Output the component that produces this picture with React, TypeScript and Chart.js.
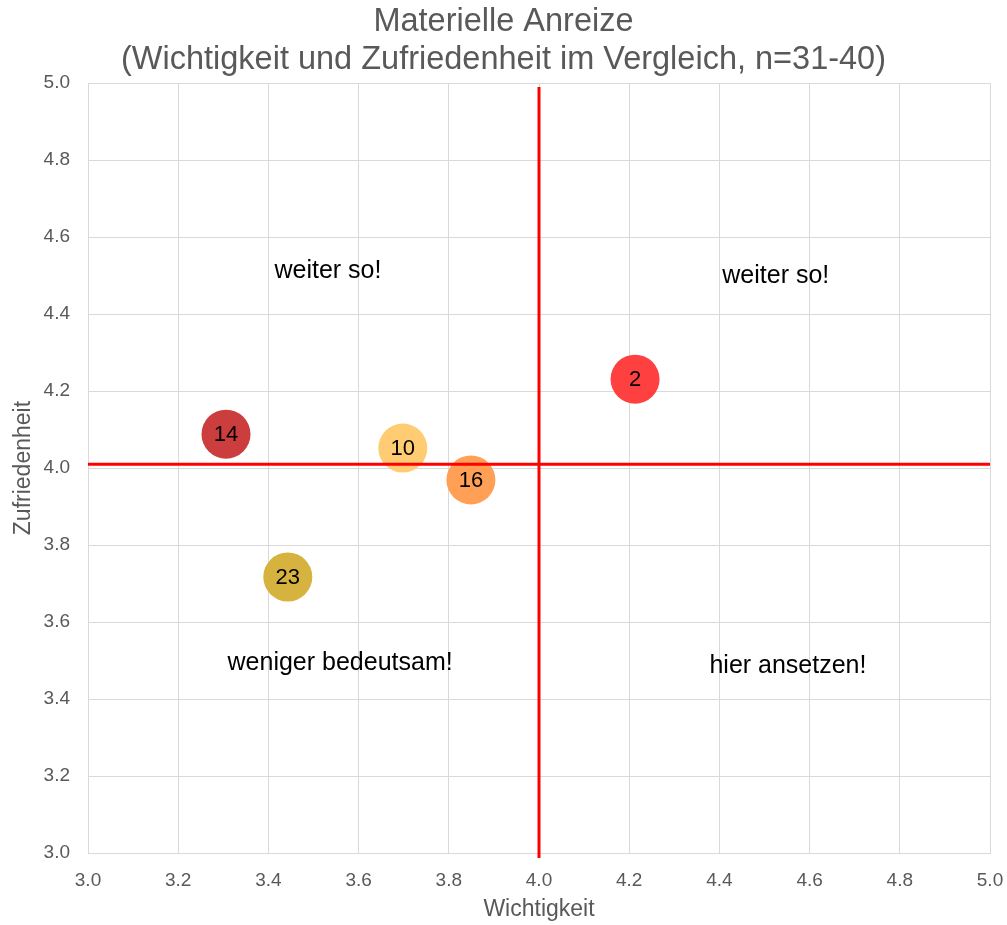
import React, { useEffect, useRef } from "react";
import { Chart, registerables } from "chart.js";

Chart.register(...registerables);

const titleLines = ["Materielle Anreize", "(Wichtigkeit und Zufriedenheit im Vergleich, n=31-40)"];
const xAxisTitle = "Wichtigkeit";
const yAxisTitle = "Zufriedenheit";

const bubbleLabels = ["14", "10", "16", "23", "2"];
const wichtigkeit = [3.306, 3.698, 3.849, 3.443, 4.213];
const zufriedenheit = [4.088, 4.052, 3.969, 3.717, 4.231];
const bubbleColors = ["#CC3D3E", "#FFCC73", "#FFA056", "#D6B23E", "#FF4040"];

const refX = 4.0;
const refY = 4.01;
const axisMin = 3.0;
const axisMax = 5.0;
const axisStep = 0.2;

const quadrantTexts = ["weiter so!", "weiter so!", "weniger bedeutsam!", "hier ansetzen!"];
const quadrantX = [3.532, 4.525, 3.559, 4.552];
const quadrantY = [4.512, 4.499, 3.494, 3.486];

const FONT = "'Liberation Sans', Arial, sans-serif";

const labelPlugin = {
  id: "labelPlugin",
  afterDatasetsDraw(chart: any) {
    const ctx = chart.ctx;
    const xs = chart.scales.x;
    const ys = chart.scales.y;
    ctx.save();
    ctx.fillStyle = "#000000";
    ctx.textAlign = "center";
    ctx.textBaseline = "middle";
    ctx.font = `25px ${FONT}`;
    quadrantTexts.forEach((t, i) => {
      ctx.fillText(t, xs.getPixelForValue(quadrantX[i]), ys.getPixelForValue(quadrantY[i]));
    });
    const meta = chart.getDatasetMeta(0);
    ctx.font = `22px ${FONT}`;
    meta.data.forEach((el: any, i: number) => {
      ctx.fillText(bubbleLabels[i], el.x, el.y + 1);
    });
    ctx.restore();
  },
};

export default function App() {
  const ref = useRef<HTMLCanvasElement | null>(null);
  useEffect(() => {
    if (!ref.current) return;
    const chart = new Chart(ref.current, {
      type: "bubble",
      data: {
        datasets: [
          {
            type: "bubble",
            data: wichtigkeit.map((x, i) => ({ x, y: zufriedenheit[i] })),
            backgroundColor: bubbleColors,
            borderWidth: 0,
            radius: 24.5,
            order: 2,
          } as any,
          {
            type: "line",
            data: [
              { x: refX, y: 2.987 },
              { x: refX, y: 4.99 },
            ],
            borderColor: "#FF0000",
            borderWidth: 3,
            pointRadius: 0,
            clip: false,
            order: 1,
          } as any,
          {
            type: "line",
            data: [
              { x: axisMin, y: refY },
              { x: axisMax, y: refY },
            ],
            borderColor: "#FF0000",
            borderWidth: 3,
            pointRadius: 0,
            clip: false,
            order: 1,
          } as any,
        ],
      },
      options: {
        animation: false,
        responsive: false,
        layout: { autoPadding: false, padding: 0 },
        plugins: {
          legend: { display: false },
          tooltip: { enabled: false },
          title: {
            display: true,
            text: titleLines,
            color: "#595959",
            font: { family: FONT, size: 32.5, weight: "normal", lineHeight: 1.14 },
            padding: { top: 4, bottom: 5 },
          },
        },
        scales: {
          x: {
            type: "linear",
            min: axisMin,
            max: axisMax,
            afterFit: (s: any) => {
              s.height = 72;
              s.paddingRight = 17;
              s.paddingLeft = 0;
            },
            ticks: {
              stepSize: axisStep,
              padding: 16,
              color: "#595959",
              font: { family: FONT, size: 19 },
              callback: (v: any) => Number(v).toFixed(1),
            },
            grid: { color: "#D9D9D9", lineWidth: 1, drawTicks: false },
            border: { color: "#D9D9D9", width: 1 },
            title: {
              display: true,
              text: xAxisTitle,
              color: "#595959",
              font: { family: FONT, size: 23 },
              padding: { top: 0, bottom: 1.2 },
            },
          },
          y: {
            type: "linear",
            min: axisMin,
            max: axisMax,
            afterFit: (s: any) => {
              s.width = 88;
            },
            ticks: {
              stepSize: axisStep,
              padding: 18,
              color: "#595959",
              font: { family: FONT, size: 19 },
              callback: (v: any) => Number(v).toFixed(1),
            },
            grid: { color: "#D9D9D9", lineWidth: 1, drawTicks: false },
            border: { color: "#D9D9D9", width: 1 },
            title: {
              display: true,
              text: yAxisTitle,
              color: "#595959",
              font: { family: FONT, size: 23 },
              padding: { top: 10, bottom: 0 },
            },
          },
        },
      },
      plugins: [labelPlugin],
    } as any);
    return () => chart.destroy();
  }, []);
  return (
    <div style={{ position: "absolute", left: 0, top: 0, width: 1007, height: 925 }}>
      <canvas ref={ref} width={1007} height={925} style={{ display: "block" }} />
    </div>
  );
}
